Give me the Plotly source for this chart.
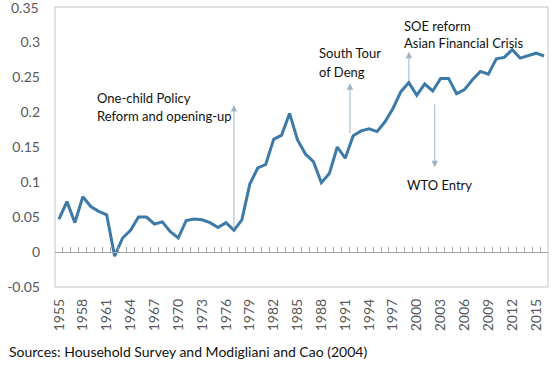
import plotly.graph_objects as go

years = list(range(1955, 2017))
values = [0.047, 0.072, 0.042, 0.079, 0.065, 0.058, 0.053, -0.006, 0.020, 0.031,
          0.050, 0.050, 0.040, 0.043, 0.029, 0.020, 0.045, 0.047, 0.046, 0.042,
          0.035, 0.042, 0.031, 0.046, 0.097, 0.120, 0.125, 0.161, 0.167, 0.198,
          0.160, 0.140, 0.129, 0.099, 0.112, 0.150, 0.134, 0.166, 0.173, 0.176,
          0.172, 0.186, 0.205, 0.229, 0.242, 0.224, 0.240, 0.230, 0.248, 0.248,
          0.226, 0.232, 0.246, 0.258, 0.254, 0.276, 0.278, 0.289, 0.277, 0.281,
          0.284, 0.280]
x_tick_years = list(range(1955, 2016, 3))
y_tick_vals = [-0.05, 0, 0.05, 0.1, 0.15, 0.2, 0.25, 0.3]
y_tick_text = ["-0.05", "0", "0.05", "0.1", "0.15", "0.2", "0.25", "0.3"]
y_top_label = "0.35"   # top-of-range tick label (drawn as text; Plotly drops edge label)

LINE = "#3d7aa8"
ARROW = "#9fb3c8"
FRAME = "#c4c4c4"
TICKGRAY = "#595959"
FONT = "Lato"

Y_MIN, Y_MAX = -0.05, 0.35

fig = go.Figure()
fig.add_trace(go.Scatter(x=years, y=values, mode="lines",
                         line=dict(color=LINE, width=3), hoverinfo="skip",
                         showlegend=False))
# invisible trace on the tick axis
fig.add_trace(go.Scatter(x=[years[0]], y=[0], xaxis="x2", mode="markers",
                         marker=dict(opacity=0), showlegend=False, hoverinfo="skip"))

xr = [years[0] - 0.5, years[-1] + 0.5]
yr = [Y_MIN, Y_MAX]
fig.update_layout(
    width=557, height=368,
    margin=dict(l=51, r=9, t=7, b=81),
    paper_bgcolor="white", plot_bgcolor="white",
    font=dict(family=FONT, size=14, color=TICKGRAY),
    xaxis=dict(range=xr, tickmode="array", tickvals=x_tick_years,
               ticktext=[str(y) for y in x_tick_years], tickangle=-90,
               showgrid=False, zeroline=False, showline=False,
               ticks="", ticklabelstandoff=8,
               tickfont=dict(family=FONT, size=14, color=TICKGRAY)),
    xaxis2=dict(range=xr, overlaying="x", anchor="free",
                position=(0 - yr[0]) / (yr[1] - yr[0]),
                tickmode="linear", tick0=years[0] - 0.5, dtick=1,
                ticks="inside", ticklen=5, tickcolor="#a6a6a6", tickwidth=1,
                showticklabels=False, showline=True, linecolor="#a6a6a6",
                linewidth=1, showgrid=False, zeroline=False),
    yaxis=dict(range=yr, tickmode="array", tickvals=y_tick_vals,
               ticktext=y_tick_text, showgrid=False, zeroline=False,
               showline=False, ticks="", ticklabelstandoff=14,
               tickfont=dict(family=FONT, size=14, color=TICKGRAY)),
)

# top tick label
fig.add_annotation(x=-14 / 497, y=1, xref="paper", yref="paper", text=y_top_label,
                   showarrow=False, xanchor="right", yanchor="middle",
                   font=dict(family=FONT, size=14, color=TICKGRAY))

# plot-area frame
fig.add_shape(type="rect", xref="paper", yref="paper", x0=0, x1=1, y0=0, y1=1,
              line=dict(color=FRAME, width=1), fillcolor="rgba(0,0,0,0)",
              layer="below")

# arrows
arrows = [
    (1977, 0.210, 1977, 0.031),
    (1991.6, 0.241, 1991.6, 0.167),
    (1999, 0.286, 1999, 0.243),
    (2002.26, 0.121, 2002.26, 0.213),
]
for hx, hy, tx, ty in arrows:
    fig.add_annotation(x=hx, y=hy, ax=tx, ay=ty, xref="x", yref="y",
                       axref="x", ayref="y", text="", showarrow=True,
                       arrowhead=2, arrowsize=1.3, arrowwidth=1,
                       arrowcolor=ARROW)

labels = [
    ("One-child Policy", 1960.0, 0.220),
    ("Reform and opening-up", 1960.0, 0.194),
    ("South Tour", 1988.0, 0.284),
    ("of Deng", 1988.0, 0.257),
    ("SOE reform", 1998.6, 0.323),
    ("Asian Financial Crisis", 1998.6, 0.299),
    ("WTO Entry", 1999.0, 0.096),
]
for txt, lx, ly in labels:
    fig.add_annotation(x=lx, y=ly, xref="x", yref="y", text=txt,
                       showarrow=False, xanchor="left", yanchor="middle",
                       xshift=-4,
                       font=dict(family=FONT, size=13, color="#111111"))

fig.add_annotation(x=-0.097, y=-0.232, xref="paper", yref="paper",
                   text="Sources: Household Survey and Modigliani and Cao (2004)",
                   showarrow=False, xanchor="left", yanchor="middle",
                   font=dict(family=FONT, size=14, color="#111111"))

fig.write_html("out.html", config={"displayModeBar": False},
               post_script="document.body.style.margin='0px';document.body.style.padding='0px';")
